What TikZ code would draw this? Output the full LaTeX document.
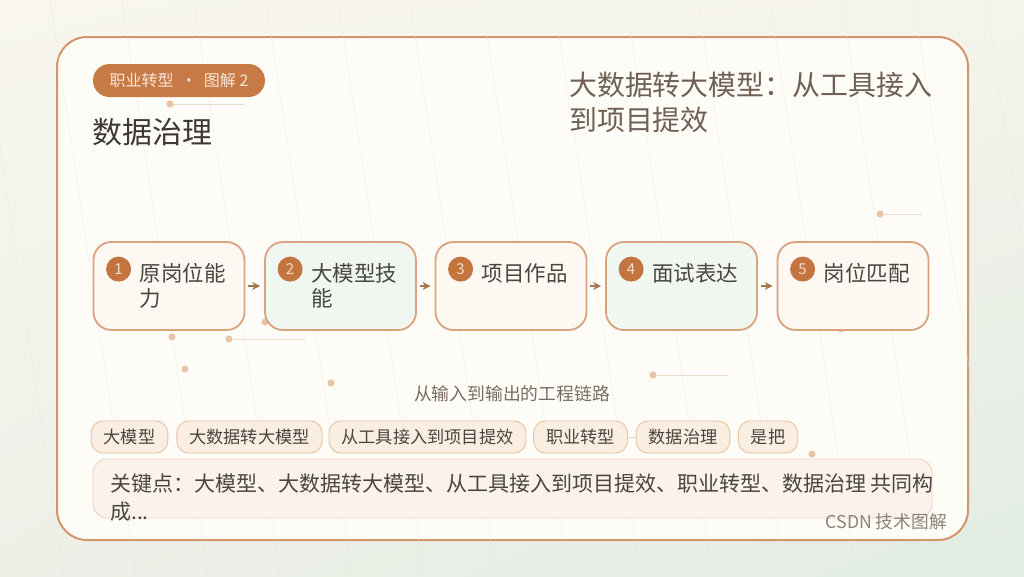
\documentclass[tikz,border=0pt]{standalone}
\usepackage{fontspec}
\setmainfont{Noto Sans CJK SC}
\usetikzlibrary{arrows.meta,calc,shadings}
\definecolor{bgTL}{HTML}{F8F6EF}
\definecolor{bgTR}{HTML}{F5F4EC}
\definecolor{bgBL}{HTML}{EEF0E8}
\definecolor{bgBR}{HTML}{E2ECE3}
\definecolor{cardfill}{HTML}{FDFCF7}
\definecolor{cardline}{HTML}{D4956A}
\definecolor{pillfill}{HTML}{C67A45}
\definecolor{pilltext}{HTML}{F8E6D8}
\definecolor{boxline}{HTML}{DAA27D}
\definecolor{warmfill}{HTML}{FEF8F3}
\definecolor{mintfill}{HTML}{EFF7F0}
\definecolor{numfill}{HTML}{C4753F}
\definecolor{numtext}{HTML}{F6DDC9}
\definecolor{arrowc}{HTML}{A57850}
\definecolor{dotc}{HTML}{E9C3A5}
\definecolor{dlinec}{HTML}{EADBCB}
\definecolor{tagfill}{HTML}{FAEEE2}
\definecolor{tagline}{HTML}{E8C3A2}
\definecolor{keyfill}{HTML}{FBF3EB}
\definecolor{keyline}{HTML}{EDD3BE}
\definecolor{textdark}{HTML}{4A4540}
\definecolor{titledark}{HTML}{3D3833}
\definecolor{rtitle}{HTML}{6F6053}
\definecolor{captionc}{HTML}{7A6C60}
\definecolor{csdnc}{HTML}{8C8278}
\definecolor{bgline}{HTML}{E6E6DC}
\begin{document}
\begin{tikzpicture}[x=1pt,y=-1pt,
  card/.style={draw=cardline, line width=2pt, fill=cardfill, rounded corners=30pt,
    minimum width=911pt, minimum height=503pt, inner sep=0pt},
  pill/.style={fill=pillfill, rounded corners=16.5pt, minimum width=172pt, minimum height=33pt,
    inner sep=0pt, text=pilltext, font=\fontsize{16}{19}\selectfont},
  stepbox/.style={draw=boxline, line width=1.8pt, rounded corners=18pt,
    minimum width=151pt, minimum height=88pt, inner sep=0pt},
  numc/.style={circle, fill=numfill, minimum size=25pt, inner sep=0pt, text=numtext,
    font=\fontsize{15}{18}\selectfont},
  steptext/.style={anchor=north west, align=left, inner sep=0pt, text=textdark,
    font=\fontsize{21.5}{25}\selectfont},
  flow/.style={draw=arrowc, line width=1.6pt, -{Stealth[length=8pt,width=8pt]},
    shorten <=3pt, shorten >=4pt},
  tag/.style={draw=tagline, line width=0.9pt, fill=tagfill, rounded corners=12pt,
    minimum height=32pt, inner xsep=12.5pt, inner ysep=0pt, text=textdark,
    font=\fontsize{17.2}{20}\selectfont},
  keybox/.style={draw=keyline, line width=0.9pt, fill=keyfill, rounded corners=14pt,
    minimum width=839pt, minimum height=59pt, inner sep=0pt},
  dot/.style={fill=dotc},
  dline/.style={draw=dlinec, line width=1pt},
  bgl/.style={draw=bgline, line width=0.8pt, opacity=0.35}
]
\useasboundingbox (0,0) rectangle (1024,576);
\shade[upper left=bgTL, upper right=bgTR, lower left=bgBL, lower right=bgBR] (0,0) rectangle (1024,576);

% card
\node[card] (card) at (512.5,288.5) {};

% faint background lines
\foreach \i in {-3,...,13} {
  \draw[bgl] ({122+72*\i},0) -- ({122+72*\i+86},576);
}

% header
\node[pill] (pill) at (179,80.5) {职业转型\ \ ·\ \ 图解 2};
\node[anchor=base west, inner sep=0pt, text=titledark, font=\fontsize{30}{34}\selectfont]
  (title) at (92,143) {数据治理};
\node[anchor=base west, inner sep=0pt, align=left, text=rtitle, font=\fontsize{27.9}{35}\selectfont]
  (rtitle) at (569,130) {大数据转大模型：从工具接入\\到项目提效};

% decorative dots and lines
\coordinate (d1) at (170,104); \coordinate (d1e) at (245,104);
\draw[dline] (d1) -- (d1e); \fill[dot] (d1) circle (3.5);
\coordinate (d2) at (880,214); \coordinate (d2e) at (922,214);
\draw[dline] (d2) -- (d2e); \fill[dot] (d2) circle (3.5);
\coordinate (d3) at (229,339); \coordinate (d3e) at (305,339);
\draw[dline] (d3) -- (d3e); \fill[dot] (d3) circle (3.5);
\coordinate (d4) at (653,375); \coordinate (d4e) at (728,375);
\draw[dline] (d4) -- (d4e); \fill[dot] (d4) circle (3.5);
\coordinate (d5) at (618,437); \coordinate (d5e) at (640,437);
\draw[dline] (d5) -- (d5e); \fill[dot] (d5) circle (3.5);
\fill[dot] (172,337) circle (3.5);
\fill[dot] (185,369) circle (3.5);
\fill[dot] (331,383) circle (3.5);
\fill[dot] (265,322) circle (3.5);
\fill[dot] (841,329) circle (3.5);
\fill[dot] (812,454) circle (3.5);

% steps
\node[stepbox, fill=warmfill] (s1) at (169,286) {};
\node[stepbox, fill=mintfill] (s2) at (340.5,286) {};
\node[stepbox, fill=warmfill] (s3) at (511,286) {};
\node[stepbox, fill=mintfill] (s4) at (681.5,286) {};
\node[stepbox, fill=warmfill] (s5) at (853,286) {};
\foreach \k/\t in {1/{原岗位能\\力}, 2/{大模型技\\能}, 3/{项目作品}, 4/{面试表达}, 5/{岗位匹配}} {
  \node[numc] (n\k) at ($(s\k.north west)+(26,28)$) {\k};
  \node[steptext] (t\k) at ($(s\k.north west)+(47,22)$) {\t};
}
\draw[flow] (s1) -- (s2);
\draw[flow] (s2) -- (s3);
\draw[flow] (s3) -- (s4);
\draw[flow] (s4) -- (s5);

% caption
\node[text=captionc, inner sep=0pt, font=\fontsize{17.8}{20}\selectfont] (cap) at (512,394) {从输入到输出的工程链路};

% tags
\node[tag] (g1) at (129.5,437) {大模型};
\node[tag] (g2) at (249.5,437) {大数据转大模型};
\node[tag] (g3) at (427.5,437) {从工具接入到项目提效};
\node[tag] (g4) at (580.5,437) {职业转型};
\node[tag] (g5) at (683,437) {数据治理};
\node[tag] (g6) at (768,437) {是把};

% key points
\node[keybox] (key) at (512.5,488.5) {};
\node[anchor=north west, align=left, inner sep=0pt, text=textdark, font=\fontsize{21}{28}\selectfont]
  (keyt) at (110,474) {关键点：大模型、大数据转大模型、从工具接入到项目提效、职业转型、数据治理 共同构\\成...};

% footer
\node[anchor=base east, inner sep=0pt, text=csdnc, font=\fontsize{17.7}{20}\selectfont] (csdn) at (947,528) {CSDN 技术图解};
\end{tikzpicture}
\end{document}
